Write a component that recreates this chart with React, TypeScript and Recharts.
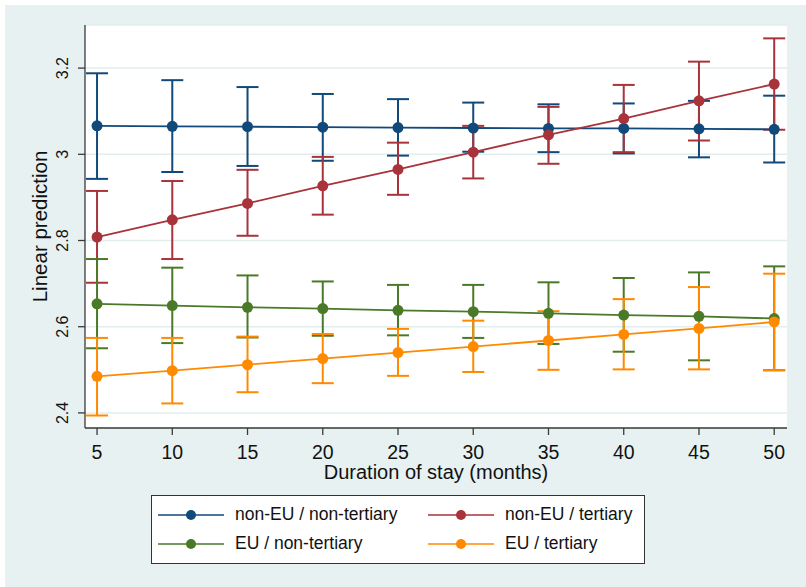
import React from 'react'
import { ComposedChart, Line, XAxis, YAxis, CartesianGrid, ErrorBar, Label } from 'recharts'

// Duration of stay (months)
const months = [5, 10, 15, 20, 25, 30, 35, 40, 45, 50]
const yTicks = [2.4, 2.6, 2.8, 3, 3.2]

// predictions with 95% CI bounds per group
const nonEuNonTerMean = [3.066, 3.065, 3.064, 3.063, 3.062, 3.061, 3.06, 3.06, 3.059, 3.058]
const nonEuNonTerLo = [2.943, 2.959, 2.973, 2.985, 2.997, 3.006, 3.005, 3.002, 2.993, 2.981]
const nonEuNonTerHi = [3.188, 3.172, 3.156, 3.14, 3.128, 3.12, 3.116, 3.118, 3.124, 3.136]

const nonEuTerMean = [2.808, 2.848, 2.886, 2.927, 2.965, 3.005, 3.045, 3.083, 3.124, 3.163]
const nonEuTerLo = [2.702, 2.757, 2.811, 2.86, 2.906, 2.944, 2.978, 3.005, 3.032, 3.057]
const nonEuTerHi = [2.915, 2.938, 2.964, 2.994, 3.027, 3.066, 3.11, 3.161, 3.215, 3.269]

const euNonTerMean = [2.653, 2.649, 2.645, 2.642, 2.638, 2.635, 2.631, 2.627, 2.624, 2.619]
const euNonTerLo = [2.55, 2.562, 2.575, 2.579, 2.58, 2.574, 2.56, 2.542, 2.522, 2.499]
const euNonTerHi = [2.757, 2.737, 2.719, 2.705, 2.697, 2.697, 2.703, 2.713, 2.726, 2.74]

const euTerMean = [2.485, 2.498, 2.512, 2.526, 2.54, 2.554, 2.568, 2.582, 2.596, 2.611]
const euTerLo = [2.394, 2.422, 2.448, 2.469, 2.486, 2.495, 2.5, 2.501, 2.501, 2.499]
const euTerHi = [2.574, 2.574, 2.577, 2.583, 2.595, 2.614, 2.636, 2.664, 2.692, 2.723]

const series = [
  { key: 'nnt', name: 'non-EU / non-tertiary', color: '#11497a', mean: nonEuNonTerMean, lo: nonEuNonTerLo, hi: nonEuNonTerHi },
  { key: 'nt', name: 'non-EU / tertiary', color: '#a8333b', mean: nonEuTerMean, lo: nonEuTerLo, hi: nonEuTerHi },
  { key: 'ent', name: 'EU / non-tertiary', color: '#4a7a28', mean: euNonTerMean, lo: euNonTerLo, hi: euNonTerHi },
  { key: 'et', name: 'EU / tertiary', color: '#ff8a00', mean: euTerMean, lo: euTerLo, hi: euTerHi },
]

const data = months.map((m, i) => {
  const row: Record<string, any> = { month: m }
  series.forEach((s) => {
    row[s.key] = s.mean[i]
    row[s.key + 'Err'] = [s.mean[i] - s.lo[i], s.hi[i] - s.mean[i]]
  })
  return row
})

const FONT = '"Liberation Sans", Arial, sans-serif'
const AXIS = '#3a3a3a'

const YTick = ({ x, y, payload }: any) => {
  const tx = x - 8
  return (
    <text x={tx} y={y} transform={`rotate(-90 ${tx} ${y})`} textAnchor="middle" fontSize={16} fill="#111" fontFamily={FONT}>
      {payload.value}
    </text>
  )
}

const XTick = ({ x, y, payload }: any) => (
  <text x={x} y={y + 22} textAnchor="middle" fontSize={19.5} fill="#111" fontFamily={FONT}>
    {payload.value}
  </text>
)

export default function App() {
  return (
    <div style={{ position: 'absolute', left: 5, top: 5, width: 801, height: 582, background: '#e7f1f1', fontFamily: FONT }}>
      <ComposedChart width={801} height={490} data={data} margin={{ top: 20, right: 19, bottom: 5, left: 0 }}>
        <CartesianGrid vertical={false} stroke="#e2eded" strokeWidth={1.5} fill="#fff" />
        <XAxis
          dataKey="month"
          type="number"
          domain={[4.2, 50.85]}
          ticks={months}
          allowDataOverflow
          height={62}
          tickSize={7}
          tick={<XTick />}
          stroke={AXIS}
          strokeWidth={1.3}
        >
          <Label
            content={({ viewBox }: any) => (
              <text x={viewBox.x + viewBox.width / 2} y={viewBox.y + 51} textAnchor="middle" fontSize={20} fill="#111" fontFamily={FONT}>
                Duration of stay (months)
              </text>
            )}
          />
        </XAxis>
        <YAxis
          type="number"
          domain={[2.365, 3.3]}
          ticks={yTicks}
          allowDataOverflow
          width={80}
          tickSize={7}
          tick={<YTick />}
          stroke={AXIS}
          strokeWidth={1.3}
        >
          <Label
            content={({ viewBox }: any) => {
              const lx = viewBox.x + 42
              const ly = viewBox.y + viewBox.height / 2
              return (
                <text x={lx} y={ly} transform={`rotate(-90 ${lx} ${ly})`} textAnchor="middle" fontSize={20.5} fill="#111" fontFamily={FONT}>
                  Linear prediction
                </text>
              )
            }}
          />
        </YAxis>

        {/* confidence intervals first, kept below the connected lines */}
        {series.map((s) => (
          <Line
            key={s.key + '-ci'}
            dataKey={s.key}
            stroke="none"
            dot={false}
            activeDot={false}
            legendType="none"
            isAnimationActive={false}
            zIndex={350}
          >
            <ErrorBar dataKey={s.key + 'Err'} width={11} stroke={s.color} strokeWidth={2} direction="y" zIndex={350} />
          </Line>
        ))}

        {series.map((s) => (
          <Line
            key={s.key}
            dataKey={s.key}
            name={s.name}
            stroke={s.color}
            strokeWidth={1.8}
            dot={{ r: 5.5, fill: s.color, stroke: s.color, strokeWidth: 0 }}
            activeDot={false}
            isAnimationActive={false}
            zIndex={450}
          />
        ))}
      </ComposedChart>

      <div
        style={{
          position: 'absolute',
          left: 146,
          top: 490,
          width: 492,
          height: 63,
          background: '#fff',
          border: '1.5px solid #333',
          display: 'grid',
          gridTemplateColumns: '270px 220px',
          gridTemplateRows: '29px 29px',
          paddingTop: 4,
        }}
      >
        {series.map((s) => (
          <div key={s.key} style={{ display: 'flex', alignItems: 'center', paddingLeft: 6 }}>
            <svg width={66} height={14} style={{ flexShrink: 0 }}>
              <line x1={0} y1={7} x2={66} y2={7} stroke={s.color} strokeWidth={1.6} />
              <circle cx={33} cy={7} r={5} fill={s.color} />
            </svg>
            <span style={{ marginLeft: 11, fontSize: 17.5, color: '#111', whiteSpace: 'nowrap' }}>{s.name}</span>
          </div>
        ))}
      </div>
    </div>
  )
}
